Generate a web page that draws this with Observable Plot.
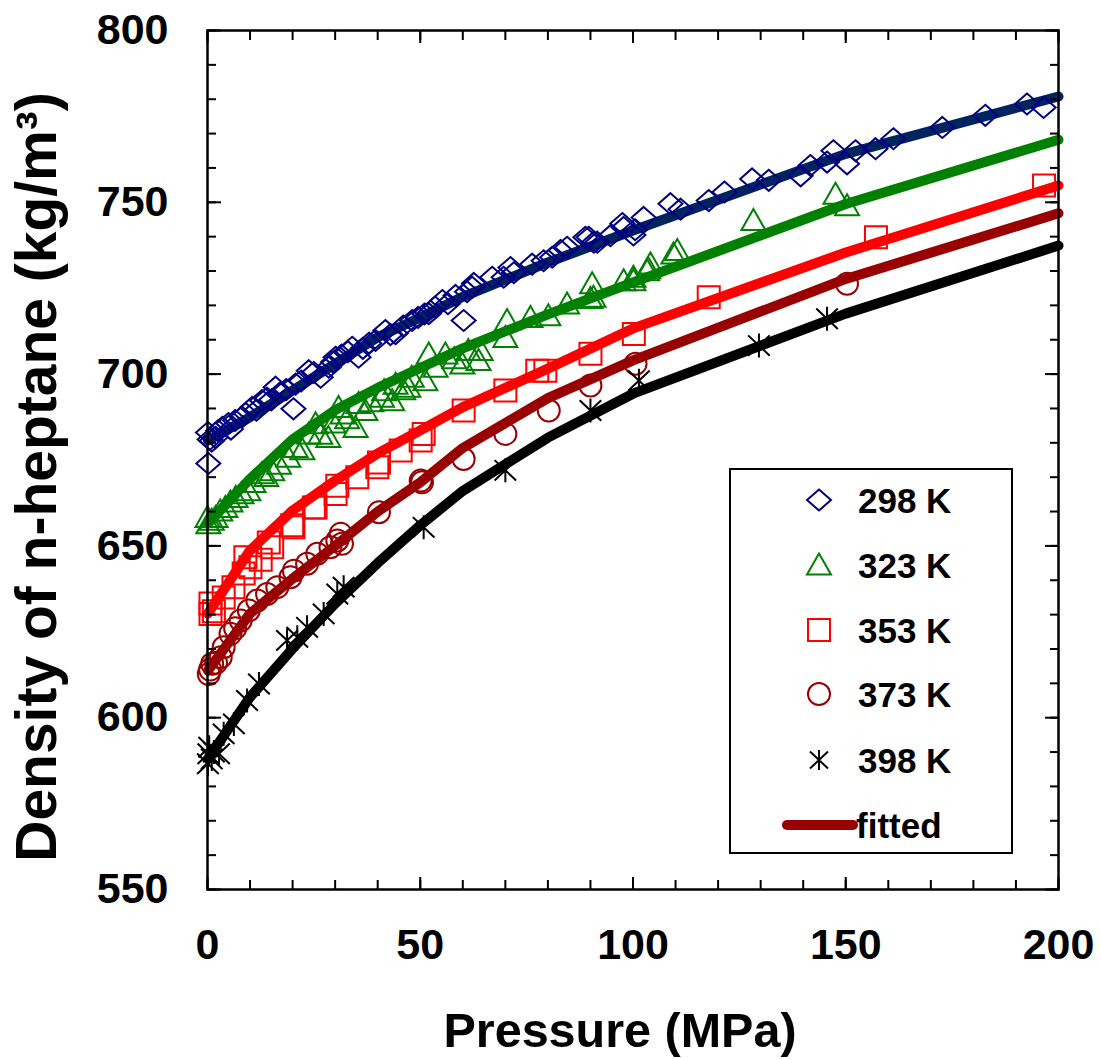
<!DOCTYPE html>
<html>
<head>
<meta charset="utf-8">
<script src="https://cdn.jsdelivr.net/npm/d3@7"></script>
<script src="https://cdn.jsdelivr.net/npm/@observablehq/plot@0.6"></script>
<style>
  html, body { margin: 0; padding: 0; background: #fff; }
  #wrap { position: relative; width: 1101px; height: 1059px; font-family: "Liberation Sans", Arial, sans-serif; }
  #legend { position: absolute; left: 729px; top: 468px; width: 284px; height: 386px; border: 2px solid #000; box-sizing: border-box; background: #fff; }
  .lg-label { position: absolute; font-weight: bold; font-size: 35px; line-height: 1; transform: translateY(-50%); color: #000; white-space: nowrap; }
</style>
</head>
<body>
<div id="wrap"><div id="legend"></div></div>
<script>
// ---- Data ----
const seriesNames = ["298 K", "323 K", "353 K", "373 K", "398 K"];
const markerColors = ["#000080", "#008000", "#ff0000", "#990000", "#000000"];
const lineColors = ["#00245f", "#008000", "#ff0000", "#990000", "#000000"];

// measured points [pressure MPa, density kg/m3]
const t298 = [[0.1,683],[0.2,674],[0.5,681],[1,680.5],[1.9,681.6],[2.5,683.5],[3.5,684.5],[4.9,685.6],[5.5,684],[6.5,686.5],[8.1,687.5],[9,688.5],[10.5,690.3],[11.5,689.5],[12.8,692.3],[14,693],[15,692.5],[16,696.2],[17,694.5],[18.5,695.5],[20.2,689.9],[20.7,697.1],[22,698],[23.8,701],[25,700.5],[26.6,699.1],[28.5,702],[29.5,703.5],[30.1,704.9],[31.5,705.5],[33,706.5],[34,707.8],[35.5,704.9],[36.5,707.5],[38,709],[39.5,709.8],[41.8,712.7],[43,711.5],[44.2,711.8],[46,714],[48.1,715.6],[49.5,716.5],[51,717.5],[52,717.6],[53.5,719.5],[55.2,721.4],[56.5,720.5],[58.3,722.9],[60.2,715.6],[61,724],[62.2,725.3],[62.6,726.4],[66.9,728.2],[69.6,728.2],[71.2,731],[72,729.5],[76.3,732],[79,733],[81,734],[83,736],[84.5,736.9],[88.8,739.8],[89.6,739.8],[90.8,738.4],[91.6,738.4],[94.7,740.3],[97.5,743.8],[97.8,742.7],[100.1,740.5],[100.5,742],[102.5,745.6],[108.8,749.6],[111.2,748],[117.8,750.5],[121.5,753],[128,756.8],[131.9,756.4],[139.4,757.7],[141.7,760.7],[145.6,761.7],[147.1,765],[150.3,761.2],[152.3,765],[157,765.6],[161.2,768.5],[172.7,771.8],[182.8,775.3],[192.6,778.6],[196.5,777.6]];
const t323 = [[0,658.3],[0.2,656.5],[1,657.5],[1.9,658.3],[3,660.2],[4.2,661.2],[5.4,662.8],[6.6,664.1],[8,665.2],[9.6,666.1],[10.8,668.5],[12.8,671],[13.8,670.2],[15.2,671.9],[16.8,673.8],[19,675.8],[20.7,678.7],[22.3,678],[23.8,682.6],[25.4,685.6],[26.5,682.5],[28.4,681.6],[29.6,685.8],[30.8,690.3],[31.7,688.4],[32.8,687],[34.8,684.5],[35.5,691.5],[37.1,689.4],[38.5,692],[41,693.3],[41.5,695.2],[43.4,692.3],[44.2,697.1],[46,695.5],[47.2,696.2],[48,699.1],[51.2,698.1],[52,705.9],[53.6,702],[55.9,705.9],[58,704.5],[59.9,703],[61.3,706.9],[63.7,704],[64.2,706.9],[70,710.7],[70.4,715.6],[75.9,716.5],[80.1,717],[84.5,720.4],[90,722],[90.4,726.3],[90.7,722.4],[97.8,727.2],[100.1,727.2],[100.1,728.2],[103.3,730.1],[103.6,730.7],[104.1,732.1],[109.5,735],[110.4,736],[128.3,744.7],[147.6,752.4],[150.3,749]];
const t353 = [[0.7,630.2],[0.7,633.2],[1.5,631],[3.8,635],[6.1,638],[8.5,642],[8.9,646.7],[10.1,643.8],[12.5,646],[14.4,651],[15.2,649.6],[19.9,656],[20.2,655.4],[25,661.2],[25.4,661.2],[30.1,665.1],[30.5,667.5],[35.2,670],[39.9,672.9],[40.3,674.3],[45.4,677.8],[50.1,680.7],[50.8,682.6],[60.2,689.4],[70,695.2],[77.5,701],[79.4,701],[90,705.9],[100.2,711.7],[117.8,722.4],[157.1,739.8],[196.6,754.9]];
const t373 = [[0.3,612.7],[0.6,614],[1.1,615.7],[2,616],[3.1,617.6],[3.8,620.5],[5.4,624.4],[6.5,626],[7.8,628.3],[9.7,631.2],[11.7,634.1],[14,636],[16.4,638],[19.5,640.9],[20.3,642.8],[23.4,644.8],[25.8,647.7],[28.9,649.6],[30.5,651.6],[31.3,653.5],[31.6,650.6],[40.3,659.8],[50.1,669],[50.4,668.5],[60.2,675.3],[70,682.6],[80.2,689.4],[90,696.7],[100.6,703],[150.3,726.3]];
const t398 = [[0.1,586.6],[0.2,589.5],[0.4,591.4],[1,588],[1.5,590],[2.7,589.5],[3.8,595.3],[6.2,598.2],[9.3,605],[12.1,609.8],[18.7,622.5],[21.1,623.4],[23.4,626.3],[27.3,630.2],[30.5,636],[32,638],[50.8,655.4],[70,672],[90,689.4],[101.4,698.1],[129.6,708.3],[145.6,716.1]];

// fitted curves
const fitP   = [0.1, 10, 20, 30, 40, 50, 60, 80, 100, 150, 200];
const fit298 = [680.7, 687.5, 695.2, 703, 710.7, 716.5, 722.5, 732.5, 741.8, 764.1, 780.8];
const fit323 = [656.5, 669.5, 681, 689.5, 696, 701.8, 707.5, 717.4, 726.7, 749.5, 768.2];
const fit353 = [630.3, 648.7, 660.3, 669, 676.9, 683.6, 690.4, 701.6, 713.3, 735.4, 754.9];
const fit373 = [613.7, 630.3, 640.5, 650, 660, 668.5, 678.5, 693, 704, 727.7, 746.8];
const fit398 = [588, 606, 620.1, 633.2, 645, 656, 666, 681.5, 694.3, 717.6, 737.4];

// axis ticks
const xMajor = [0, 50, 100, 150, 200];
const xMinor = d3.range(0, 201, 10);
const yMajor = [550, 600, 650, 700, 750, 800];
const yMinor = d3.range(550, 801, 10);

const xTitle = "Pressure (MPa)";
const yTitle = "Density of n-heptane (kg/m³)";
const fittedLabel = "fitted";

// ---- custom marker shapes ----
const rad = size => Math.sqrt(size / Math.PI);
const symDiamond = { draw(c, s) { const r = rad(s); c.moveTo(0, -r * 0.875); c.lineTo(r, 0); c.lineTo(0, r * 0.875); c.lineTo(-r, 0); c.closePath(); } };
const symTriangle = { draw(c, s) { const r = rad(s); c.moveTo(0, -r * 0.95); c.lineTo(r, r * 0.8); c.lineTo(-r, r * 0.8); c.closePath(); } };
const symSquare = { draw(c, s) { const r = rad(s); c.moveTo(-r, -r); c.lineTo(r, -r); c.lineTo(r, r); c.lineTo(-r, r); c.closePath(); } };
const symCircle = { draw(c, s) { const r = rad(s); c.moveTo(r, 0); c.arc(0, 0, r, 0, 2 * Math.PI); c.closePath(); } };
const symStar = { draw(c, s) { const r = rad(s); c.moveTo(0, -r); c.lineTo(0, r); c.moveTo(-0.9 * r, -0.85 * r); c.lineTo(0.9 * r, 0.85 * r); c.moveTo(-0.9 * r, 0.85 * r); c.lineTo(0.9 * r, -0.85 * r); } };
const symbols = [symDiamond, symTriangle, symSquare, symCircle, symStar];
const symR = [12, 12, 11, 11, 12];

const pts = [t298, t323, t353, t373, t398];
const fits = [fit298, fit323, fit353, fit373, fit398];

const lineMarks = fits.map((f, i) => Plot.line(fitP.map((p, j) => ({p, d: f[j]})), {
  x: "p", y: "d", stroke: lineColors[i], strokeWidth: 10, strokeLinecap: "round", strokeLinejoin: "round"
}));
const dotMarks = pts.map((t, i) => Plot.dot(t, {
  x: d => d[0], y: d => d[1], symbol: symbols[i], r: symR[i], stroke: markerColors[i], strokeWidth: 2, fill: "none"
}));

const font = "Liberation Sans, Arial, sans-serif";
const chart = Plot.plot({
  width: 1101, height: 1059,
  marginLeft: 207, marginRight: 43, marginTop: 30, marginBottom: 170,
  x: {domain: [0, 200]},
  y: {domain: [550, 800]},
  style: {fontFamily: font, background: "#fff", color: "#000", overflow: "visible"},
  marks: [
    ...lineMarks,
    ...dotMarks,
    // inward minor / major ticks on all four sides
    Plot.axisX({ticks: xMinor, tickSize: -9, tickFormat: () => "", strokeWidth: 2, label: null}),
    Plot.axisX({ticks: xMajor, tickSize: -12, tickFormat: () => "", strokeWidth: 2, label: null}),
    Plot.axisX({anchor: "top", ticks: xMinor, tickSize: -9, tickFormat: () => "", strokeWidth: 2, label: null}),
    Plot.axisX({anchor: "top", ticks: xMajor, tickSize: -12, tickFormat: () => "", strokeWidth: 2, label: null}),
    Plot.axisY({ticks: yMinor, tickSize: -9, tickFormat: () => "", strokeWidth: 2, label: null}),
    Plot.axisY({ticks: yMajor, tickSize: -14, tickFormat: () => "", strokeWidth: 2, label: null}),
    Plot.axisY({anchor: "right", ticks: yMinor, tickSize: -9, tickFormat: () => "", strokeWidth: 2, label: null}),
    Plot.axisY({anchor: "right", ticks: yMajor, tickSize: -14, tickFormat: () => "", strokeWidth: 2, label: null}),
    // tick labels
    Plot.axisX({ticks: xMajor, tickSize: 0, tickPadding: 39, fontSize: 43, fontWeight: "bold", label: null}),
    Plot.axisY({ticks: yMajor, tickSize: 0, tickPadding: 39, fontSize: 43, fontWeight: "bold", label: null}),
    Plot.frame({stroke: "#000", strokeWidth: 2.5}),
    // axis titles
    Plot.text([xTitle], {text: d => d, frameAnchor: "bottom", dx: -13, dy: 142, lineAnchor: "middle", textAnchor: "middle", fontSize: 48.5, fontWeight: "bold"}),
    Plot.text([yTitle], {text: d => d, frameAnchor: "left", dx: -170, dy: 17, rotate: -90, lineAnchor: "middle", textAnchor: "middle", fontSize: 57, fontWeight: "bold"})
  ]
});
const wrap = document.getElementById("wrap");
wrap.insertBefore(chart, wrap.firstChild);

// ---- legend (inside the plot area, drawn with the same shapes) ----
const legend = document.getElementById("legend");
const L = 729, T = 468; // legend box origin
const rowY = [500, 565, 630, 694, 760];
const symX = 819, labelX = 858;
const ns = "http://www.w3.org/2000/svg";
function addSvg(cx, cy, w, h, build) {
  const svg = document.createElementNS(ns, "svg");
  svg.setAttribute("width", w); svg.setAttribute("height", h);
  svg.style.position = "absolute";
  svg.style.left = (cx - w / 2 - L - 2) + "px";
  svg.style.top = (cy - h / 2 - T - 2) + "px";
  svg.style.overflow = "visible";
  build(svg, w / 2, h / 2);
  legend.appendChild(svg);
}
function addLabel(x, y, text) {
  const d = document.createElement("div");
  d.className = "lg-label";
  d.style.left = (x - L - 2) + "px";
  d.style.top = (y - T - 2) + "px";
  d.textContent = text;
  legend.appendChild(d);
}
const legendR = [12, 12, 11, 11, 10];
seriesNames.forEach((name, i) => {
  addSvg(symX, rowY[i], 40, 40, (svg, cx, cy) => {
    const p = d3.path();
    symbols[i].draw(p, Math.PI * legendR[i] * legendR[i]);
    const path = document.createElementNS(ns, "path");
    path.setAttribute("d", p.toString());
    path.setAttribute("transform", `translate(${cx},${cy})`);
    path.setAttribute("fill", "none");
    path.setAttribute("stroke", markerColors[i]);
    path.setAttribute("stroke-width", 2);
    svg.appendChild(path);
  });
  addLabel(labelX, rowY[i], name);
});
addSvg(820, 825, 80, 20, (svg, cx, cy) => {
  const ln = document.createElementNS(ns, "line");
  ln.setAttribute("x1", cx - 33); ln.setAttribute("x2", cx + 33);
  ln.setAttribute("y1", cy); ln.setAttribute("y2", cy);
  ln.setAttribute("stroke", "#990000"); ln.setAttribute("stroke-width", 10);
  ln.setAttribute("stroke-linecap", "round");
  svg.appendChild(ln);
});
addLabel(856, 825, fittedLabel);
</script>
</body>
</html>
